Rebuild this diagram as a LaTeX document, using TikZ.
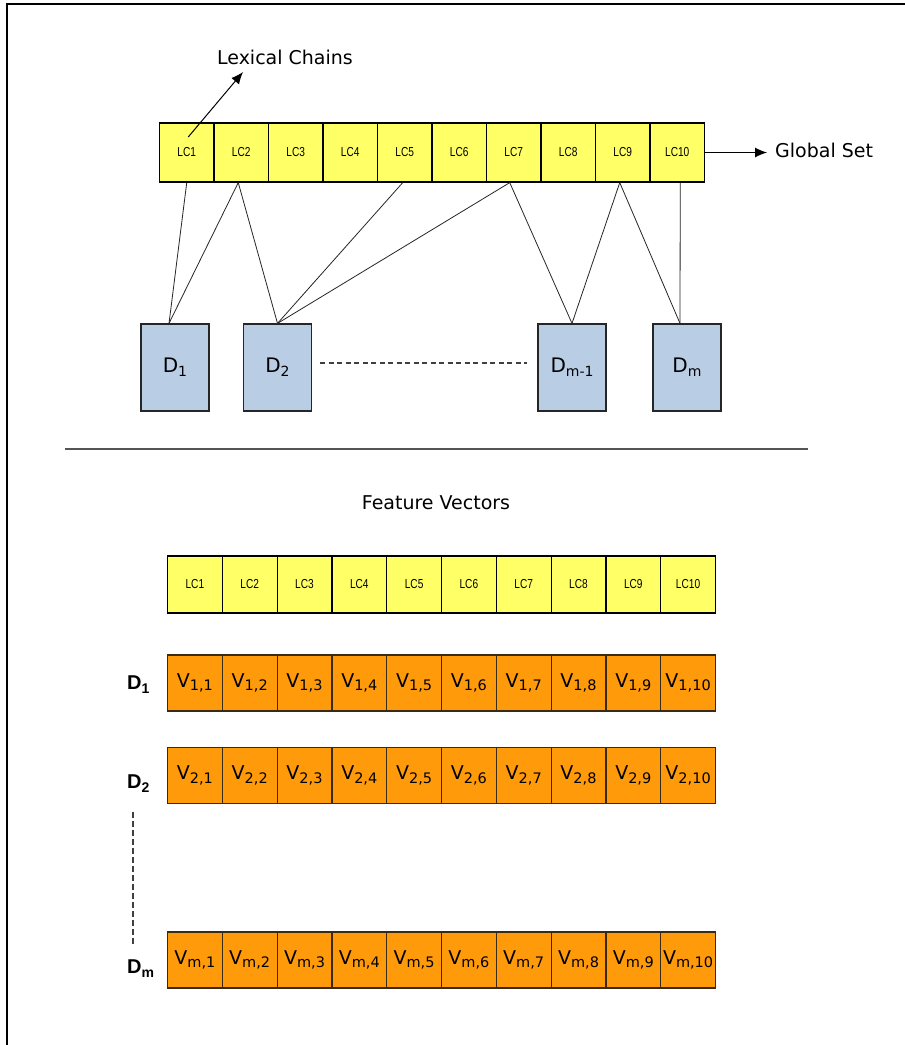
\documentclass[tikz,border=0pt]{standalone}
\usepackage{fontspec}
\setmainfont{DejaVu Sans}
\newfontfamily\lib{Liberation Sans}
\usetikzlibrary{arrows.meta,calc}
\definecolor{lcyellow}{HTML}{FFFF66}
\definecolor{docblue}{HTML}{B9CDE5}
\definecolor{vorange}{HTML}{FF9A0A}
\definecolor{vborder}{HTML}{3A2A10}
\definecolor{sepgray}{HTML}{555555}
\newcommand{\lcl}[1]{\scalebox{0.78}[1]{\lib\fontsize{13}{13}\selectfont LC#1}}
\newcommand{\vlab}[1]{{\fontsize{19}{19}\selectfont V}\raisebox{-3.5pt}{\fontsize{14.5}{14.5}\selectfont #1}}
\newcommand{\dlab}[1]{{\fontsize{20}{20}\selectfont D}\raisebox{-4pt}{\fontsize{14}{14}\selectfont #1}}
\newcommand{\rowlab}[1]{{\lib\bfseries\fontsize{20}{20}\selectfont D}\raisebox{-4pt}{\lib\bfseries\fontsize{14}{14}\selectfont #1}}
\begin{document}
\begin{tikzpicture}[x=1pt,y=-1pt,
  lccell/.style={draw=black, fill=lcyellow, minimum width=54.5pt, minimum height=59pt, inner sep=0pt, line width=1.2pt},
  vcell/.style={draw=vborder, fill=vorange, minimum width=54.8pt, minimum height=56pt, inner sep=0pt, line width=1.2pt},
  docbox/.style={draw=black!85, fill=docblue, minimum width=68pt, minimum height=87pt, inner sep=0pt, line width=1.2pt},
  link/.style={draw=black!85, line width=0.8pt},
  arr/.style={-{Latex[length=12pt,width=10pt]}, line width=1pt},
  lbl/.style={font=\fontsize{19}{19}\selectfont, inner sep=0pt},
  rowlbl/.style={inner sep=0pt},
  dotline/.style={draw=black!75, dash pattern=on 5pt off 3.5pt, line width=1.2pt}]
\useasboundingbox (0,0) rectangle (905,1045);
\fill[white] (0,0) rectangle (905,1045);
\draw[line width=2pt] (7,1045) -- (7,4) -- (905,4);

% top lexical chain row
\foreach \i in {1,...,10}
  \node[lccell] (t\i) at ({159.5+54.5*(\i-0.5)},152.5) {\lcl{\i}};

% documents
\node[docbox] (d1) at (175,367.5) {\dlab{1}};
\node[docbox] (d2) at (277.5,367.5) {\dlab{2}};
\node[docbox] (dm1) at (572,367.5) {\dlab{m-1}};
\node[docbox] (dm) at (687,367.5) {\dlab{m}};

% links
\draw[link] (t1.south) -- ([xshift=-6pt]d1.north);
\draw[link] ([xshift=-3pt]t2.south) -- ([xshift=-6pt]d1.north);
\draw[link] ([xshift=-3pt]t2.south) -- (d2.north);
\draw[link] ([xshift=-2pt]t5.south) -- (d2.north);
\draw[link] ([xshift=-4pt]t7.south) -- (d2.north);
\draw[link] ([xshift=-4pt]t7.south) -- (dm1.north);
\draw[link] ([xshift=-3pt]t9.south) -- (dm1.north);
\draw[link] ([xshift=-3pt]t9.south) -- ([xshift=-7pt]dm.north);
\draw[link] ([xshift=3pt]t10.south) -- ([xshift=-7pt]dm.north);

\draw[dotline] ([xshift=8pt,yshift=4.5pt]d2.east) -- ([xshift=-10pt,yshift=4.5pt]dm1.west);

% labels and arrows
\node[lbl] (lex) at (285,57) {Lexical Chains};
\coordinate (lexTip) at (243,72);
\draw[arr] ([shift={(1.5,-15.5)}]t1.center) -- (lexTip);
\node[lbl, anchor=west] (gs) at (775,150) {Global Set};
\coordinate (gsTip) at (767,152.5);
\draw[arr] (t10.east) -- (gsTip);

% separator
\draw[sepgray, line width=2pt] (65,449) -- (808,449);

\node[lbl] (fv) at (436,503) {Feature Vectors};

% bottom lexical chain row
\foreach \i in {1,...,10}
  \node[lccell, minimum width=54.8pt, minimum height=57pt] (b\i) at ({167.5+54.8*(\i-0.5)},584.5) {\lcl{\i}};

% vector rows
\foreach \r/\y in {1/683,2/775.5,m/960}
  \foreach \i in {1,...,10}
    \node[vcell] (v\r-\i) at ({167.5+54.8*(\i-0.5)},\y) {\vlab{\r,\i}};

\node[rowlbl, anchor=base west] (dl1) at (127,689) {\rowlab{1}};
\node[rowlbl, anchor=base west] (dl2) at (127,788) {\rowlab{2}};
\node[rowlbl, anchor=base west] (dlm) at (127,973) {\rowlab{m}};
\draw[dotline, line width=1.5pt, dash pattern=on 6pt off 3pt] ([xshift=6pt,yshift=-20pt]dl2.south west) -- ([xshift=6pt,yshift=12pt]dlm.north west);
\end{tikzpicture}
\end{document}
